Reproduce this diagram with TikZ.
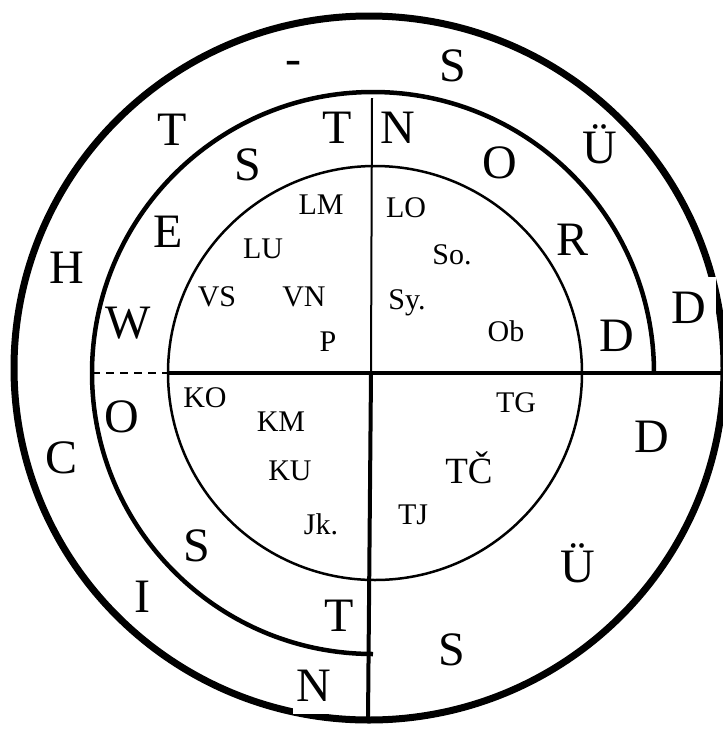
\documentclass[tikz,border=0pt]{standalone}
\usepackage{fontspec}
\setmainfont{Liberation Serif}
\begin{document}
\begin{tikzpicture}[x=1pt,y=-1pt,
  big/.style={font=\fontsize{48}{48}\selectfont, inner sep=0pt, text height=31.8pt, text depth=0pt},
  small/.style={font=\fontsize{30}{30}\selectfont, inner sep=0pt, text height=19.9pt, text depth=0pt},
  mid/.style={font=\fontsize{37}{37}\selectfont, inner sep=0pt, text height=24.5pt, text depth=0pt},
  outerring/.style={line width=7pt},
  middlering/.style={line width=4.5pt},
  innerring/.style={line width=2.5pt},
  thickline/.style={line width=4pt},
  thinline/.style={line width=2pt},
  dashline/.style={line width=2pt, dash pattern=on 8pt off 6pt},
  patch/.style={fill=white, draw=none}]
\useasboundingbox (0,0) rectangle (723,729);
\fill[white] (0,0) rectangle (723,729);

% circles
\coordinate (oc) at (369,368);
\coordinate (mc) at (373,373);
\coordinate (ic) at (375,373);
\draw[outerring] (oc) ellipse [x radius=355, y radius=352];
% paste notches on the outer ring
\fill[patch] (690,277) rectangle (716,371);
\fill[patch] (293,690) rectangle (366,714);

\draw[middlering] (654,373) arc [start angle=0, end angle=-270, radius=281];
\draw[innerring] (ic) circle [radius=207];

% dividing lines
\coordinate (hl) at (92,373);
\coordinate (hi) at (168,373);
\coordinate (hr) at (723,373);
\coordinate (vt) at (372,98);
\coordinate (vc) at (371,373);
\coordinate (vb) at (368,721);
\draw[dashline] (hl) -- (hi);
\draw[thickline] (hi) -- (hr);
\draw[thinline] (vt) -- (vc);
\draw[thickline] (vc) -- (vb);

% outer ring labels
\node[big] (dash) at (293,59) {-};
\node[big] (s1) at (453,66) {S};
\node[big] (t1) at (172,130) {T};
\node[big] (u1) at (600,148) {Ü};
\node[big] (h) at (67,268) {H};
\node[big] (d1) at (689,308) {D};
\node[big] (c) at (62,458) {C};
\node[big] (d2) at (652,437) {D};
\node[big] (u2) at (578,567) {Ü};
\node[big] (i) at (142,597) {I};
\node[big] (n1) at (314,686) {N};
\node[big] (s2) at (452,650) {S};

% middle ring labels
\node[big] (t2) at (337,128) {T};
\node[big] (n2) at (398,128) {N};
\node[big] (s3) at (248,165) {S};
\node[big] (o1) at (500,163) {O};
\node[big] (e) at (168,232) {E};
\node[big] (r) at (573,240) {R};
\node[big] (w) at (128,323) {W};
\node[big] (d3) at (617,336) {D};
\node[big] (o2) at (122,417) {O};
\node[big] (s4) at (197,546) {S};
\node[big] (t3) at (339,616) {T};

% inner labels
\node[small] (lm) at (321,205) {LM};
\node[small] (lu) at (263,249) {LU};
\node[small] (vs) at (217,297) {VS};
\node[small] (vn) at (304,297) {VN};
\node[small] (p) at (328,342) {P};
\node[small] (lo) at (406,208) {LO};
\node[small] (so) at (452,255) {So.};
\node[small] (sy) at (407,300) {Sy.};
\node[small] (ob) at (506,332) {Ob};
\node[small] (ko) at (205,398) {KO};
\node[small] (km) at (281,422) {KM};
\node[small] (ku) at (290,471) {KU};
\node[small] (jk) at (321,525) {Jk.};
\node[small] (tg) at (516,403) {TG};
\node[mid] (tc) at (469,471) {TČ};
\node[small] (tj) at (413,515) {TJ};
\end{tikzpicture}
\end{document}
